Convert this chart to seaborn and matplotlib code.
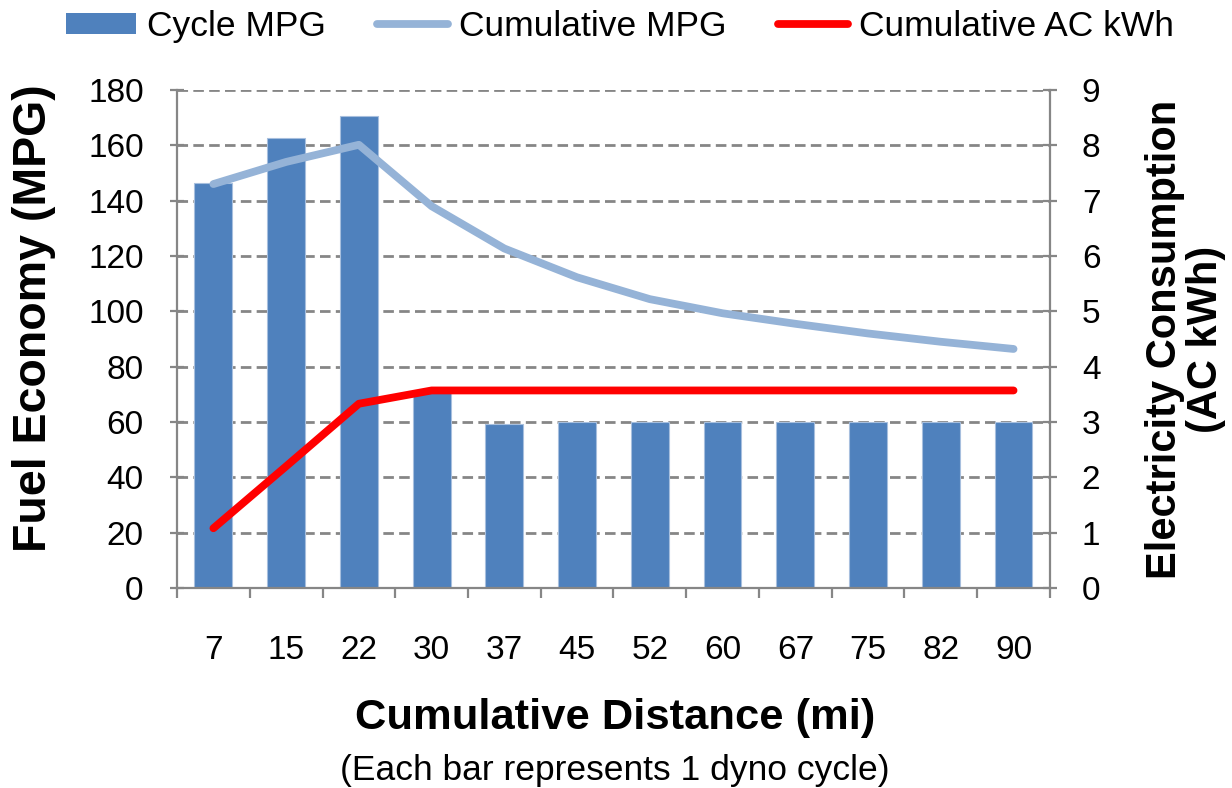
import numpy as np
import pandas as pd
import matplotlib
matplotlib.use("Agg")
import matplotlib.pyplot as plt
from matplotlib.lines import Line2D
from matplotlib.patches import Patch
from matplotlib.ticker import MultipleLocator, FixedLocator
import seaborn as sns

# Dyno test results per cycle
distance_mi = ["7", "15", "22", "30", "37", "45", "52", "60", "67", "75", "82", "90"]
cycle_mpg = [146.5, 162.5, 170.5, 71, 59.2, 60, 60, 60, 60, 60, 60, 60]
cumulative_mpg = [146, 154, 160.2, 138, 122.7, 112.3, 104.4, 99.3, 95.5, 92, 89, 86.4]
cumulative_ac_kwh = [1.08, 2.2, 3.33, 3.57, 3.57, 3.57, 3.57, 3.57, 3.57, 3.57, 3.57, 3.57]

BAR = "#4F81BD"
LIGHT = "#95B3D7"
RED = "#FF0000"
GREY = "#868686"
LW = 5.6

sns.set_theme(style="white")
plt.rcParams["font.family"] = ["Liberation Sans", "DejaVu Sans"]
plt.rcParams["text.color"] = "black"
plt.rcParams["axes.labelcolor"] = "black"

df = pd.DataFrame({
    "distance": distance_mi,
    "pos": np.arange(len(distance_mi)),
    "cycle": cycle_mpg,
    "cum_mpg": cumulative_mpg,
    "kwh": cumulative_ac_kwh,
})

fig = plt.figure(figsize=(12.32, 7.88), dpi=100)
ax = fig.add_axes([0.1437, 0.2538, 0.7085, 0.632])

sns.barplot(data=df, x="distance", y="cycle", order=distance_mi, color=BAR,
            saturation=1, width=0.52, edgecolor="#A7BFDE", linewidth=0.8,
            ax=ax, zorder=2)
sns.lineplot(data=df, x="pos", y="cum_mpg", color=LIGHT, linewidth=LW,
             ax=ax, zorder=3, sort=False)
for ln in ax.lines:
    ln.set_solid_capstyle("round")
    ln.set_solid_joinstyle("round")

ax2 = ax.twinx()
sns.lineplot(data=df, x="pos", y="kwh", color=RED, linewidth=LW,
             ax=ax2, zorder=3, sort=False)
for ln in ax2.lines:
    ln.set_solid_capstyle("round")
    ln.set_solid_joinstyle("round")

ax.set_xlim(-0.5, len(distance_mi) - 0.5)
ax.set_ylim(0, 180)
ax2.set_ylim(0, 9)
ax.yaxis.set_major_locator(MultipleLocator(20))
ax2.yaxis.set_major_locator(MultipleLocator(1))

# grid
ax.set_axisbelow(True)
ax.grid(axis="y", color=GREY, linestyle=(0, (3.8, 1.9)), linewidth=2.0)
ax.grid(axis="x", visible=False)
ax2.grid(False)

# spines
for a in (ax, ax2):
    a.spines["top"].set_visible(False)
    for s in ("left", "right", "bottom"):
        a.spines[s].set_color(GREY)
        a.spines[s].set_linewidth(1.6)
ax.spines["right"].set_visible(False)
ax2.spines["left"].set_visible(False)
ax2.spines["bottom"].set_visible(False)

# x ticks at category boundaries, labels centred under bars
ax.set_xticks(np.arange(len(distance_mi)))
ax.set_xticklabels(distance_mi)
ax.xaxis.set_minor_locator(FixedLocator(np.arange(-0.5, len(distance_mi), 1)))
ax.tick_params(axis="x", which="major", length=0, pad=34, labelsize=24,
               colors="black")
ax.tick_params(axis="x", which="minor", length=7, width=1.6, color=GREY,
               direction="out", bottom=True)
ax.tick_params(axis="y", which="major", length=10, width=1.6, color=GREY,
               direction="inout", pad=19, labelsize=24, labelcolor="black",
               left=True)
ax2.tick_params(axis="y", which="major", length=10, width=1.6, color=GREY,
                direction="inout", pad=18, labelsize=24, labelcolor="black",
                right=True)

ax.set_xlabel("")
ax.set_ylabel("Fuel Economy (MPG)", fontsize=33.5, fontweight="bold")
ax.yaxis.set_label_coords(-0.139, 0.542)
ax2.set_ylabel("Electricity Consumption\n(AC kWh)", fontsize=30,
               fontweight="bold", labelpad=32, linespacing=1.05)

fig.text(0.499, 0.089, "Cumulative Distance (mi)", ha="center", va="center",
         fontsize=31.3, fontweight="bold")
fig.text(0.499, 0.022, "(Each bar represents 1 dyno cycle)", ha="center",
         va="center", fontsize=25.5)

handles = [
    Patch(facecolor=BAR, edgecolor="none"),
    Line2D([0], [0], color=LIGHT, linewidth=LW, solid_capstyle="round"),
    Line2D([0], [0], color=RED, linewidth=LW, solid_capstyle="round"),
]
labels = ["Cycle MPG", "Cumulative MPG", "Cumulative AC kWh"]
fig.legend(handles, labels, loc="upper center", bbox_to_anchor=(0.503, 1.028),
           ncol=3, frameon=False, fontsize=25.5, handlelength=2.0,
           handleheight=0.55, handletextpad=0.3, columnspacing=1.45)

fig.savefig("out.png", dpi=100)
